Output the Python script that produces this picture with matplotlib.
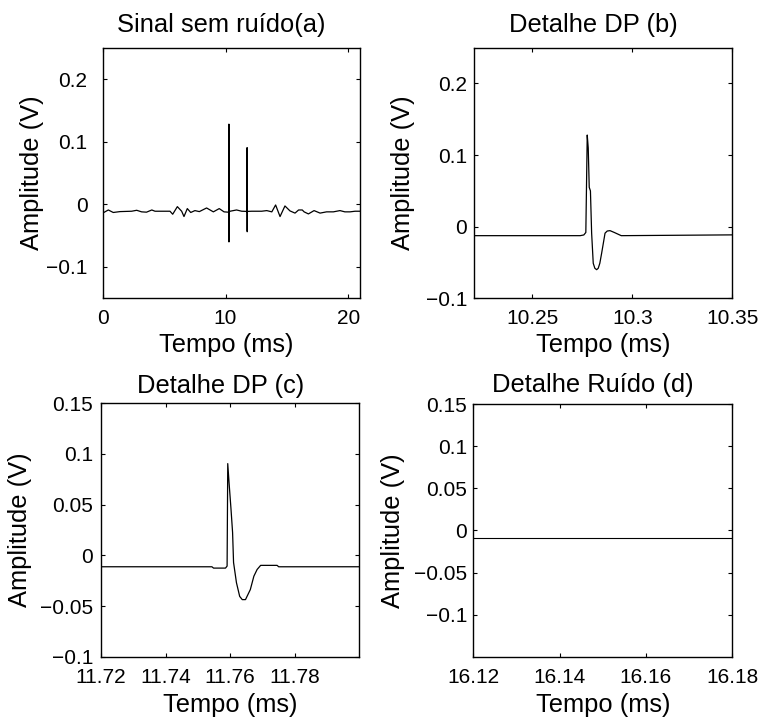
import numpy as np
import matplotlib
matplotlib.use("Agg")
import matplotlib.pyplot as plt

plt.rcParams['font.family'] = ['Liberation Sans', 'DejaVu Sans']

# sinal sem ruido: linha de base (ms, V)
base_t = [0.0, 0.46, 0.86, 1.41, 2.36, 2.77, 3.17, 3.57, 4.0, 4.26, 5.48, 5.70,
          6.08, 6.43, 6.62, 6.89, 7.17, 7.51, 7.87, 8.46, 9.01, 9.49, 9.88, 10.22,
          10.37, 10.90, 11.32, 12.13, 12.94, 13.36, 13.77, 14.08, 14.44, 14.84,
          15.25, 15.66, 15.95, 16.25, 16.40, 16.75, 17.21, 17.70, 18.23, 18.78,
          19.32, 19.72, 20.14, 20.55, 20.95]
base_v = [-0.014, -0.009, -0.013, -0.0116, -0.011, -0.0095, -0.012, -0.0125,
          -0.009, -0.011, -0.011, -0.0158, -0.0037, -0.011, -0.0195, -0.0068,
          -0.013, -0.010, -0.0116, -0.0058, -0.012, -0.0068, -0.012, -0.0125,
          -0.011, -0.009, -0.011, -0.011, -0.011, -0.010, -0.012, -0.001,
          -0.0195, -0.0026, -0.0105, -0.014, -0.009, -0.009, -0.012, -0.0153,
          -0.010, -0.014, -0.012, -0.012, -0.010, -0.012, -0.012, -0.011, -0.011]

# descarga parcial 1
dp1_t = [10.2740, 10.2758, 10.2768, 10.2775, 10.2780, 10.2785, 10.2791, 10.2797,
         10.2805, 10.2813, 10.2822, 10.2830, 10.2838, 10.2847, 10.2864, 10.2875,
         10.2889, 10.2910, 10.2945]
dp1_v = [-0.0125, -0.0115, -0.008, 0.128, 0.110, 0.055, 0.050, -0.009, -0.051,
         -0.058, -0.060, -0.058, -0.051, -0.037, -0.009, -0.006, -0.0055, -0.008,
         -0.0125]

# descarga parcial 2
dp2_t = [11.7544, 11.7549, 11.7586, 11.7591, 11.7593, 11.7597, 11.7603, 11.7608,
         11.7611, 11.7620, 11.7630, 11.7638, 11.7648, 11.7663, 11.7674, 11.7684,
         11.7695, 11.7746, 11.7751]
dp2_v = [-0.0113, -0.0126, -0.0126, -0.0106, 0.0905, 0.072, 0.046, 0.0226, -0.007,
         -0.027, -0.0405, -0.0437, -0.0437, -0.0338, -0.0206, -0.014, -0.0099,
         -0.0099, -0.0113]

t = np.concatenate([base_t, dp1_t, dp2_t])
v = np.concatenate([base_v, dp1_v, dp2_v])
order = np.argsort(t)
t, v = t[order], v[order]

titles = ['Sinal sem ruído(a)', 'Detalhe DP (b)', 'Detalhe DP (c)', 'Detalhe Ruído (d)']
xlims = [(0, 20.95), (10.2209, 10.35), (11.72, 11.80), (16.12, 16.18)]
ylims = [(-0.15, 0.25), (-0.1, 0.25), (-0.1, 0.15), (-0.15, 0.15)]
xticks = [[0, 10, 20], [10.25, 10.3, 10.35], [11.72, 11.74, 11.76, 11.78],
          [16.12, 16.14, 16.16, 16.18]]
xticklabels = [['0', '10', '20'], ['10.25', '10.3', '10.35'],
               ['11.72', '11.74', '11.76', '11.78'], ['16.12', '16.14', '16.16', '16.18']]
yticks = [[-0.1, 0, 0.1, 0.2], [-0.1, 0, 0.1, 0.2],
          [-0.1, -0.05, 0, 0.05, 0.1, 0.15], [-0.1, -0.05, 0, 0.05, 0.1, 0.15]]
yticklabels = [['\u22120.1', '0', '0.1', '0.2'], ['\u22120.1', '0', '0.1', '0.2'],
               ['\u22120.1', '\u22120.05', '0', '0.05', '0.1', '0.15'],
               ['\u22120.1', '\u22120.05', '0', '0.05', '0.1', '0.15']]

positions = [[0.1344, 0.5845, 0.3368, 0.3491], [0.6204, 0.5845, 0.3381, 0.3491],
             [0.1322, 0.0854, 0.3377, 0.3529], [0.6195, 0.0854, 0.3390, 0.3515]]
ypads = [11, 5, 5.8, 4.3]
xpads = [8, 8, 8.4, 8.4]
ylab_x = [-0.228, -0.228, -0.269, -0.264]
xlab_x = [0.48, 0.5, 0.5, 0.5]
xlab_y = [-0.138, -0.138, -0.144, -0.144]
title_y = [1.064, 1.064, 1.039, 1.05]

fig = plt.figure(figsize=(7.64, 7.18), dpi=100)
for i in range(4):
    ax = fig.add_axes(positions[i])
    if i == 3:
        # detalhe do ruido: linha constante
        ax.plot([16.12, 16.18], [-0.0087, -0.0087], color='black', lw=0.8)
    else:
        ax.plot(t, v, color='black', lw=0.9)
    ax.set_xlim(*xlims[i])
    ax.set_ylim(*ylims[i])
    ax.set_xticks(xticks[i])
    ax.set_xticklabels(xticklabels[i])
    ax.set_yticks(yticks[i])
    ax.set_yticklabels(yticklabels[i])
    ax.tick_params(direction='in', length=3, width=0.8, top=True, right=True,
                   labelsize=15)
    ax.tick_params(axis='x', pad=xpads[i])
    ax.tick_params(axis='y', pad=ypads[i])
    for s in ax.spines.values():
        s.set_linewidth(1.0)
    ax.set_title(titles[i], fontsize=18.4, x=0.462, y=title_y[i], pad=0)
    ax.set_xlabel('Tempo (ms)', fontsize=18.4)
    ax.set_ylabel('Amplitude (V)', fontsize=18.4)
    ax.xaxis.set_label_coords(xlab_x[i], xlab_y[i])
    ax.yaxis.set_label_coords(ylab_x[i], 0.5)

fig.savefig('out.png', dpi=100)
